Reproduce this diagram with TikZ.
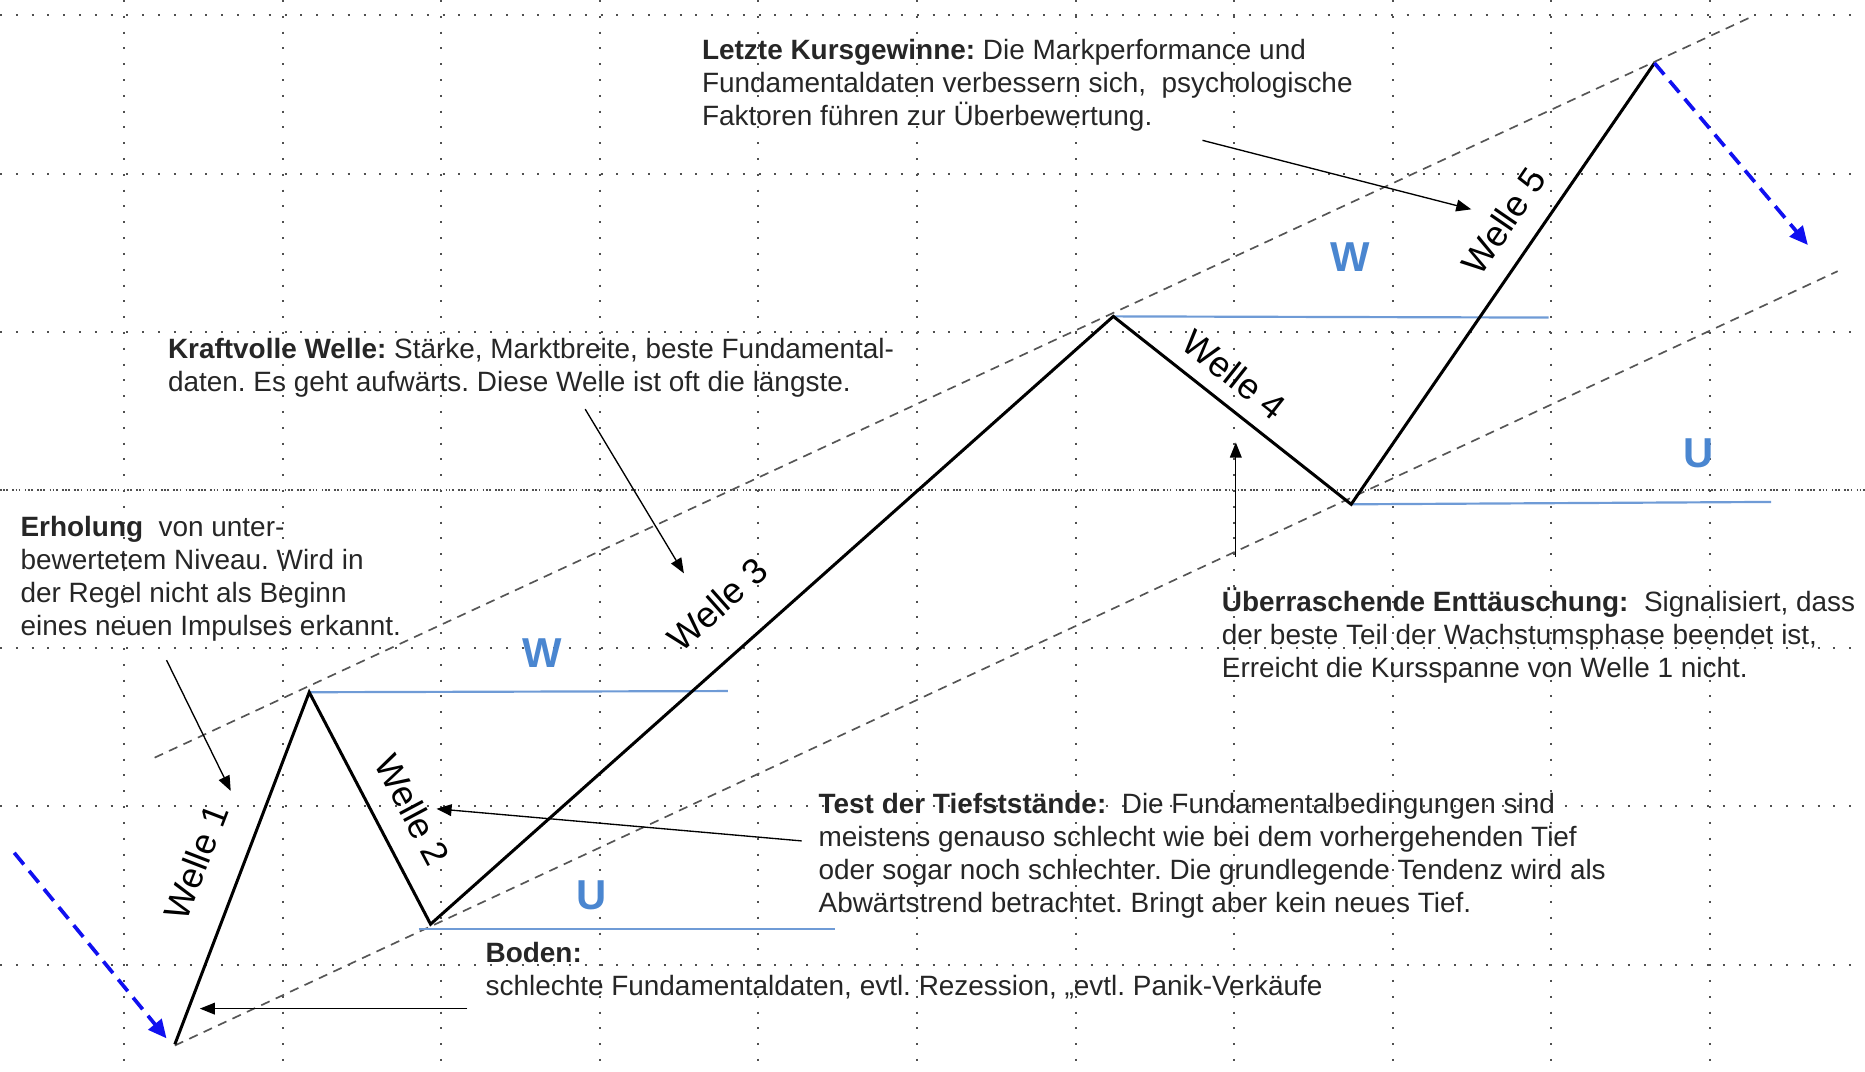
\documentclass[tikz,border=0pt]{standalone}
\usepackage{fontspec}
\setmainfont{Liberation Sans}
\usetikzlibrary{arrows.meta}
\definecolor{gridc}{HTML}{505050}
\definecolor{chan}{HTML}{555555}
\definecolor{lblue}{HTML}{6F9BD6}
\definecolor{letblue}{HTML}{4A86D0}
\definecolor{arrblue}{HTML}{1010F0}
\definecolor{txt}{HTML}{262626}
\frenchspacing
\begin{document}
\begin{tikzpicture}[x=0.025cm,y=-0.025cm,
  gridline/.style={gridc, line width=1.2pt, dash pattern=on 1.2pt off 8.25pt},
  gridtriple/.style={gridc, line width=1.1pt, dash pattern=on 1pt off 0.9pt on 1pt off 0.9pt on 1pt off 2.6pt},
  channel/.style={chan, line width=1pt, dash pattern=on 5.5pt off 4pt},
  wave/.style={black, line width=1.8pt, line join=miter},
  level/.style={lblue, line width=1.3pt},
  letter/.style={letblue, font=\fontsize{25}{28}\selectfont\bfseries, inner sep=0pt},
  wlabel/.style={black, font=\fontsize{21.5}{24}\selectfont, inner sep=0pt},
  desc/.style={anchor=north west, inner sep=0pt, align=left, text=txt, font=\fontsize{16.7}{19.6}\selectfont},
  pointer/.style={black, line width=0.8pt, -{Triangle[length=9pt,width=7pt]}},
  trend/.style={arrblue, line width=2.2pt, dash pattern=on 9pt off 5pt, -{Triangle[length=11pt,width=10pt]}}
]
\useasboundingbox (0,0) rectangle (1568,901);
% grid
\foreach \gx in {104.5,237.8,371.1,504.4,637.7,771,904.3,1037.6,1170.9,1304.2,1437.5}
  \draw[gridline] (\gx,0) -- (\gx,901);
\foreach \gy in {13,146,279,545,678,811}
  \draw[gridline] (0,\gy) -- (1568,\gy);
\draw[gridtriple] (0,412) -- (1568,412);

% points
\coordinate (p0) at (147,878);
\coordinate (p1) at (260,582);
\coordinate (p2) at (362,777);
\coordinate (p3) at (936,266);
\coordinate (p4) at (1136,424);
\coordinate (p5) at (1391,53);

% channel
\coordinate (cu1) at (130,637);
\coordinate (cu2) at (1475,13);
\coordinate (cl1) at (147,879);
\coordinate (cl2) at (1545,228);
\draw[channel] (cu1) -- (cu2);
\draw[channel] (cl1) -- (cl2);

% level lines
\coordinate (w1e) at (612,581);
\coordinate (u1s) at (352,781);
\coordinate (u1e) at (702,781);
\coordinate (w2e) at (1302,267);
\coordinate (u2e) at (1489,422);
\draw[level] (p1) -- (w1e);
\draw[level] (u1s) -- (u1e);
\draw[level] (p3) -- (w2e);
\draw[level] (p4) -- (u2e);

% letters
\node[letter] (lw1) at (456,549) {W};
\node[letter] (lu1) at (497,753) {U};
\node[letter] (lw2) at (1135,216) {W};
\node[letter] (lu2) at (1428,381) {U};

% wave
\draw[wave] (p0) -- (p1) -- (p2) -- (p3) -- (p4) -- (p5);

% wave labels
\node[wlabel, rotate=69] (l1) at (165,725) {Welle 1};
\node[wlabel, rotate=-62] (l2) at (347,681) {Welle 2};
\node[wlabel, rotate=41.6] (l3) at (603,508) {Welle 3};
\node[wlabel, rotate=-38.3] (l4) at (1038,315) {Welle 4};
\node[wlabel, rotate=55.6] (l5) at (1264,186) {Welle 5};

% trend arrows
\coordinate (b1s) at (12,717);
\coordinate (b1e) at (140,873);
\coordinate (b2e) at (1520,206);
\draw[trend] (b1s) -- (b1e);
\draw[trend] (p5) -- (b2e);

% descriptions
\node[desc] (tletzte) at (590,33) {\textbf{Letzte Kursgewinne:} Die Markperformance und\\
Fundamentaldaten verbessern sich,\ \ psychologische\\
Faktoren führen zur Überbewertung.};
\node[desc] (tkraft) at (141,284) {\textbf{Kraftvolle Welle:} Stärke, Marktbreite, beste Fundamental-\\
daten. Es geht aufwärts. Diese Welle ist oft die längste.};
\node[desc] (terhol) at (17,434) {\textbf{Erholung}\ \ von unter-\\
bewertetem Niveau. Wird in\\
der Regel nicht als Beginn\\
eines neuen Impulses erkannt.};
\node[desc] (tueber) at (1027,494) {\textbf{Überraschende Enttäuschung:}\ \ Signalisiert, dass\\
der beste Teil der Wachstumsphase beendet ist,\\
Erreicht die Kursspanne von Welle 1 nicht.};
\node[desc] (ttest) at (688,667) {\textbf{Test der Tiefststände:}\ \ Die Fundamentalbedingungen sind\\
meistens genauso schlecht wie bei dem vorhergehenden Tief\\
oder sogar noch schlechter. Die grundlegende Tendenz wird als\\
Abwärtstrend betrachtet. Bringt aber kein neues Tief.};
\node[desc] (tboden) at (408,792) {\textbf{Boden:}\\
schlechte Fundamentaldaten, evtl. Rezession, „evtl. Panik-Verkäufe};

% pointers
\coordinate (a1s) at (1011,118);
\coordinate (a1e) at (1237,176);
\coordinate (a2s) at (492,344);
\coordinate (a2e) at (575,482);
\coordinate (a3s) at (140,555);
\coordinate (a3e) at (194,665);
\coordinate (a4s) at (674,707);
\coordinate (a4e) at (367,680);
\coordinate (a5s) at (393,848);
\coordinate (a5e) at (168,848);
\coordinate (a6s) at (1039,468);
\coordinate (a6e) at (1039,372);
\draw[pointer] (a1s) -- (a1e);
\draw[pointer] (a2s) -- (a2e);
\draw[pointer] (a3s) -- (a3e);
\draw[pointer] (a4s) -- (a4e);
\draw[pointer] (a5s) -- (a5e);
\draw[pointer] (a6s) -- (a6e);
\end{tikzpicture}
\end{document}
